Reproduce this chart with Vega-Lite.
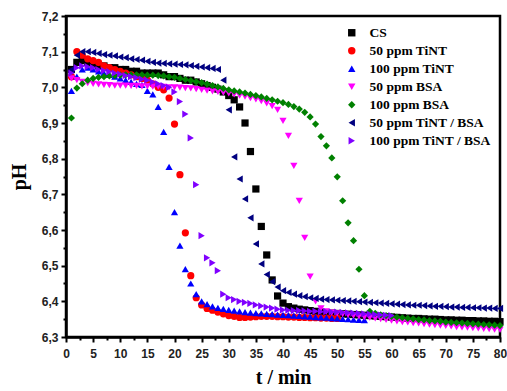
{
  "$schema": "https://vega.github.io/schema/vega-lite/v6.json",
  "width": 434,
  "height": 321,
  "autosize": {"type": "none"},
  "padding": {"left": 66, "top": 16, "right": 7, "bottom": 54},
  "background": "white",
  "config": {
    "view": {"stroke": "black", "strokeWidth": 2.5},
    "axis": {
      "domainColor": "black", "domainWidth": 2.5, "tickColor": "black", "tickWidth": 2,
      "grid": false, "labelFont": "Liberation Sans", "labelFontWeight": "bold", "labelFontSize": 12,
      "labelColor": "#222", "titleFont": "Liberation Serif", "titleFontWeight": "bold",
      "titleFontSize": 20, "titleColor": "black", "labelOverlap": false, "labelFlush": false
    }
  },
  "data": {"values": [
{"s":"CS","t":1,"pH":7.05},{"s":"CS","t":2,"pH":7.07},{"s":"CS","t":3,"pH":7.075},{"s":"CS","t":4,"pH":7.07},{"s":"CS","t":5,"pH":7.065},{"s":"CS","t":6,"pH":7.06},{"s":"CS","t":7,"pH":7.06},{"s":"CS","t":8,"pH":7.055},{"s":"CS","t":9,"pH":7.055},{"s":"CS","t":10,"pH":7.05},
{"s":"CS","t":11,"pH":7.05},{"s":"CS","t":12,"pH":7.045},{"s":"CS","t":13,"pH":7.045},{"s":"CS","t":14,"pH":7.04},{"s":"CS","t":15,"pH":7.04},{"s":"CS","t":16,"pH":7.04},{"s":"CS","t":17,"pH":7.04},{"s":"CS","t":18,"pH":7.035},{"s":"CS","t":19,"pH":7.03},{"s":"CS","t":20,"pH":7.03},
{"s":"CS","t":21,"pH":7.025},{"s":"CS","t":22,"pH":7.02},{"s":"CS","t":23,"pH":7.02},{"s":"CS","t":24,"pH":7.015},{"s":"CS","t":25,"pH":7.01},{"s":"CS","t":26,"pH":7.005},{"s":"CS","t":27,"pH":7.0},{"s":"CS","t":28,"pH":6.995},{"s":"CS","t":29,"pH":6.987},{"s":"CS","t":30,"pH":6.977},
{"s":"CS","t":31,"pH":6.965},{"s":"CS","t":32,"pH":6.945},{"s":"CS","t":33,"pH":6.9},{"s":"CS","t":34,"pH":6.82},{"s":"CS","t":35,"pH":6.715},{"s":"CS","t":36,"pH":6.61},{"s":"CS","t":37,"pH":6.53},{"s":"CS","t":38,"pH":6.46},{"s":"CS","t":39,"pH":6.415},{"s":"CS","t":40,"pH":6.395},
{"s":"CS","t":41,"pH":6.385},{"s":"CS","t":42,"pH":6.381},{"s":"CS","t":43,"pH":6.378},{"s":"CS","t":44,"pH":6.376},{"s":"CS","t":45,"pH":6.374},{"s":"CS","t":46,"pH":6.372},{"s":"CS","t":47,"pH":6.37},{"s":"CS","t":48,"pH":6.368},{"s":"CS","t":49,"pH":6.367},{"s":"CS","t":50,"pH":6.366},
{"s":"CS","t":51,"pH":6.365},{"s":"CS","t":52,"pH":6.364},{"s":"CS","t":53,"pH":6.363},{"s":"CS","t":54,"pH":6.362},{"s":"CS","t":55,"pH":6.361},{"s":"CS","t":56,"pH":6.36},{"s":"CS","t":57,"pH":6.359},{"s":"CS","t":58,"pH":6.358},{"s":"CS","t":59,"pH":6.357},{"s":"CS","t":60,"pH":6.356},
{"s":"CS","t":61,"pH":6.355},{"s":"CS","t":62,"pH":6.354},{"s":"CS","t":63,"pH":6.353},{"s":"CS","t":64,"pH":6.352},{"s":"CS","t":65,"pH":6.352},{"s":"CS","t":66,"pH":6.351},{"s":"CS","t":67,"pH":6.35},{"s":"CS","t":68,"pH":6.35},{"s":"CS","t":69,"pH":6.349},{"s":"CS","t":70,"pH":6.348},
{"s":"CS","t":71,"pH":6.348},{"s":"CS","t":72,"pH":6.347},{"s":"CS","t":73,"pH":6.347},{"s":"CS","t":74,"pH":6.346},{"s":"CS","t":75,"pH":6.346},{"s":"CS","t":76,"pH":6.345},{"s":"CS","t":77,"pH":6.345},{"s":"CS","t":78,"pH":6.344},{"s":"CS","t":79,"pH":6.344},{"s":"CS","t":80,"pH":6.343},

{"s":"50 ppm TiNT","t":1,"pH":7.03},{"s":"50 ppm TiNT","t":2,"pH":7.1},{"s":"50 ppm TiNT","t":3,"pH":7.09},{"s":"50 ppm TiNT","t":4,"pH":7.08},{"s":"50 ppm TiNT","t":5,"pH":7.075},{"s":"50 ppm TiNT","t":6,"pH":7.07},{"s":"50 ppm TiNT","t":7,"pH":7.06},{"s":"50 ppm TiNT","t":8,"pH":7.055},{"s":"50 ppm TiNT","t":9,"pH":7.05},{"s":"50 ppm TiNT","t":10,"pH":7.045},
{"s":"50 ppm TiNT","t":11,"pH":7.04},{"s":"50 ppm TiNT","t":12,"pH":7.035},{"s":"50 ppm TiNT","t":13,"pH":7.03},{"s":"50 ppm TiNT","t":14,"pH":7.025},{"s":"50 ppm TiNT","t":15,"pH":7.02},{"s":"50 ppm TiNT","t":16,"pH":7.01},{"s":"50 ppm TiNT","t":17,"pH":7.0},{"s":"50 ppm TiNT","t":18,"pH":6.993},{"s":"50 ppm TiNT","t":19,"pH":6.97},{"s":"50 ppm TiNT","t":20,"pH":6.897},
{"s":"50 ppm TiNT","t":21,"pH":6.755},{"s":"50 ppm TiNT","t":22,"pH":6.592},{"s":"50 ppm TiNT","t":23,"pH":6.472},{"s":"50 ppm TiNT","t":24,"pH":6.41},{"s":"50 ppm TiNT","t":25,"pH":6.39},{"s":"50 ppm TiNT","t":26,"pH":6.38},{"s":"50 ppm TiNT","t":27,"pH":6.375},{"s":"50 ppm TiNT","t":28,"pH":6.37},{"s":"50 ppm TiNT","t":29,"pH":6.365},{"s":"50 ppm TiNT","t":30,"pH":6.36},
{"s":"50 ppm TiNT","t":31,"pH":6.358},{"s":"50 ppm TiNT","t":32,"pH":6.355},{"s":"50 ppm TiNT","t":33,"pH":6.355},{"s":"50 ppm TiNT","t":34,"pH":6.356},{"s":"50 ppm TiNT","t":35,"pH":6.357},{"s":"50 ppm TiNT","t":36,"pH":6.358},{"s":"50 ppm TiNT","t":37,"pH":6.358},{"s":"50 ppm TiNT","t":38,"pH":6.358},{"s":"50 ppm TiNT","t":39,"pH":6.357},{"s":"50 ppm TiNT","t":40,"pH":6.357},
{"s":"50 ppm TiNT","t":41,"pH":6.356},{"s":"50 ppm TiNT","t":42,"pH":6.356},{"s":"50 ppm TiNT","t":43,"pH":6.355},{"s":"50 ppm TiNT","t":44,"pH":6.355},{"s":"50 ppm TiNT","t":45,"pH":6.354},{"s":"50 ppm TiNT","t":46,"pH":6.354},{"s":"50 ppm TiNT","t":47,"pH":6.353},{"s":"50 ppm TiNT","t":48,"pH":6.353},{"s":"50 ppm TiNT","t":49,"pH":6.352},{"s":"50 ppm TiNT","t":50,"pH":6.352},

{"s":"100 ppm TiNT","t":1,"pH":6.99},{"s":"100 ppm TiNT","t":2,"pH":7.03},{"s":"100 ppm TiNT","t":3,"pH":7.05},{"s":"100 ppm TiNT","t":4,"pH":7.055},{"s":"100 ppm TiNT","t":5,"pH":7.05},{"s":"100 ppm TiNT","t":6,"pH":7.045},{"s":"100 ppm TiNT","t":7,"pH":7.04},{"s":"100 ppm TiNT","t":8,"pH":7.035},{"s":"100 ppm TiNT","t":9,"pH":7.03},{"s":"100 ppm TiNT","t":10,"pH":7.025},
{"s":"100 ppm TiNT","t":11,"pH":7.02},{"s":"100 ppm TiNT","t":12,"pH":7.015},{"s":"100 ppm TiNT","t":13,"pH":7.01},{"s":"100 ppm TiNT","t":14,"pH":7.007},{"s":"100 ppm TiNT","t":15,"pH":6.99},{"s":"100 ppm TiNT","t":16,"pH":6.98},{"s":"100 ppm TiNT","t":17,"pH":6.945},{"s":"100 ppm TiNT","t":18,"pH":6.875},{"s":"100 ppm TiNT","t":19,"pH":6.777},{"s":"100 ppm TiNT","t":20,"pH":6.65},
{"s":"100 ppm TiNT","t":21,"pH":6.556},{"s":"100 ppm TiNT","t":22,"pH":6.49},{"s":"100 ppm TiNT","t":23,"pH":6.45},{"s":"100 ppm TiNT","t":24,"pH":6.42},{"s":"100 ppm TiNT","t":25,"pH":6.4},{"s":"100 ppm TiNT","t":26,"pH":6.392},{"s":"100 ppm TiNT","t":27,"pH":6.386},{"s":"100 ppm TiNT","t":28,"pH":6.382},{"s":"100 ppm TiNT","t":29,"pH":6.379},{"s":"100 ppm TiNT","t":30,"pH":6.376},
{"s":"100 ppm TiNT","t":31,"pH":6.374},{"s":"100 ppm TiNT","t":32,"pH":6.372},{"s":"100 ppm TiNT","t":33,"pH":6.37},{"s":"100 ppm TiNT","t":34,"pH":6.368},{"s":"100 ppm TiNT","t":35,"pH":6.367},{"s":"100 ppm TiNT","t":36,"pH":6.366},{"s":"100 ppm TiNT","t":37,"pH":6.365},{"s":"100 ppm TiNT","t":38,"pH":6.364},{"s":"100 ppm TiNT","t":39,"pH":6.363},{"s":"100 ppm TiNT","t":40,"pH":6.362},
{"s":"100 ppm TiNT","t":41,"pH":6.361},{"s":"100 ppm TiNT","t":42,"pH":6.36},{"s":"100 ppm TiNT","t":43,"pH":6.359},{"s":"100 ppm TiNT","t":44,"pH":6.358},{"s":"100 ppm TiNT","t":45,"pH":6.357},{"s":"100 ppm TiNT","t":46,"pH":6.356},{"s":"100 ppm TiNT","t":47,"pH":6.355},{"s":"100 ppm TiNT","t":48,"pH":6.354},{"s":"100 ppm TiNT","t":49,"pH":6.353},{"s":"100 ppm TiNT","t":50,"pH":6.352},
{"s":"100 ppm TiNT","t":51,"pH":6.351},{"s":"100 ppm TiNT","t":52,"pH":6.35},{"s":"100 ppm TiNT","t":53,"pH":6.349},{"s":"100 ppm TiNT","t":54,"pH":6.348},{"s":"100 ppm TiNT","t":55,"pH":6.347},

{"s":"50 ppm BSA","t":1,"pH":7.025},{"s":"50 ppm BSA","t":2,"pH":7.02},{"s":"50 ppm BSA","t":3,"pH":7.015},{"s":"50 ppm BSA","t":4,"pH":7.012},{"s":"50 ppm BSA","t":5,"pH":7.01},{"s":"50 ppm BSA","t":6,"pH":7.008},{"s":"50 ppm BSA","t":7,"pH":7.007},{"s":"50 ppm BSA","t":8,"pH":7.006},{"s":"50 ppm BSA","t":9,"pH":7.005},{"s":"50 ppm BSA","t":10,"pH":7.005},
{"s":"50 ppm BSA","t":11,"pH":7.005},{"s":"50 ppm BSA","t":12,"pH":7.004},{"s":"50 ppm BSA","t":13,"pH":7.004},{"s":"50 ppm BSA","t":14,"pH":7.003},{"s":"50 ppm BSA","t":15,"pH":7.003},{"s":"50 ppm BSA","t":16,"pH":7.002},{"s":"50 ppm BSA","t":17,"pH":7.002},{"s":"50 ppm BSA","t":18,"pH":7.001},{"s":"50 ppm BSA","t":19,"pH":7.0},{"s":"50 ppm BSA","t":20,"pH":7.0},
{"s":"50 ppm BSA","t":21,"pH":6.999},{"s":"50 ppm BSA","t":22,"pH":6.998},{"s":"50 ppm BSA","t":23,"pH":6.997},{"s":"50 ppm BSA","t":24,"pH":6.995},{"s":"50 ppm BSA","t":25,"pH":6.993},{"s":"50 ppm BSA","t":26,"pH":6.991},{"s":"50 ppm BSA","t":27,"pH":6.989},{"s":"50 ppm BSA","t":28,"pH":6.987},{"s":"50 ppm BSA","t":29,"pH":6.985},{"s":"50 ppm BSA","t":30,"pH":6.983},
{"s":"50 ppm BSA","t":31,"pH":6.98},{"s":"50 ppm BSA","t":32,"pH":6.977},{"s":"50 ppm BSA","t":33,"pH":6.974},{"s":"50 ppm BSA","t":34,"pH":6.97},{"s":"50 ppm BSA","t":35,"pH":6.966},{"s":"50 ppm BSA","t":36,"pH":6.961},{"s":"50 ppm BSA","t":37,"pH":6.955},{"s":"50 ppm BSA","t":38,"pH":6.947},{"s":"50 ppm BSA","t":39,"pH":6.937},{"s":"50 ppm BSA","t":40,"pH":6.906},
{"s":"50 ppm BSA","t":41,"pH":6.864},{"s":"50 ppm BSA","t":42,"pH":6.78},{"s":"50 ppm BSA","t":43,"pH":6.682},{"s":"50 ppm BSA","t":44,"pH":6.578},{"s":"50 ppm BSA","t":45,"pH":6.469},{"s":"50 ppm BSA","t":46,"pH":6.4},{"s":"50 ppm BSA","t":47,"pH":6.38},{"s":"50 ppm BSA","t":48,"pH":6.372},{"s":"50 ppm BSA","t":49,"pH":6.368},{"s":"50 ppm BSA","t":50,"pH":6.366},
{"s":"50 ppm BSA","t":51,"pH":6.364},{"s":"50 ppm BSA","t":52,"pH":6.362},{"s":"50 ppm BSA","t":53,"pH":6.36},{"s":"50 ppm BSA","t":54,"pH":6.358},{"s":"50 ppm BSA","t":55,"pH":6.356},{"s":"50 ppm BSA","t":56,"pH":6.354},{"s":"50 ppm BSA","t":57,"pH":6.352},{"s":"50 ppm BSA","t":58,"pH":6.35},{"s":"50 ppm BSA","t":59,"pH":6.348},{"s":"50 ppm BSA","t":60,"pH":6.346},
{"s":"50 ppm BSA","t":61,"pH":6.344},{"s":"50 ppm BSA","t":62,"pH":6.342},{"s":"50 ppm BSA","t":63,"pH":6.341},{"s":"50 ppm BSA","t":64,"pH":6.339},{"s":"50 ppm BSA","t":65,"pH":6.338},{"s":"50 ppm BSA","t":66,"pH":6.336},{"s":"50 ppm BSA","t":67,"pH":6.335},{"s":"50 ppm BSA","t":68,"pH":6.333},{"s":"50 ppm BSA","t":69,"pH":6.332},{"s":"50 ppm BSA","t":70,"pH":6.331},
{"s":"50 ppm BSA","t":71,"pH":6.33},{"s":"50 ppm BSA","t":72,"pH":6.328},{"s":"50 ppm BSA","t":73,"pH":6.327},{"s":"50 ppm BSA","t":74,"pH":6.326},{"s":"50 ppm BSA","t":75,"pH":6.325},{"s":"50 ppm BSA","t":76,"pH":6.324},{"s":"50 ppm BSA","t":77,"pH":6.323},{"s":"50 ppm BSA","t":78,"pH":6.322},{"s":"50 ppm BSA","t":79,"pH":6.321},{"s":"50 ppm BSA","t":80,"pH":6.32},

{"s":"100 ppm BSA","t":1,"pH":6.914},{"s":"100 ppm BSA","t":2,"pH":6.998},{"s":"100 ppm BSA","t":3,"pH":7.01},{"s":"100 ppm BSA","t":4,"pH":7.02},{"s":"100 ppm BSA","t":5,"pH":7.025},{"s":"100 ppm BSA","t":6,"pH":7.028},{"s":"100 ppm BSA","t":7,"pH":7.03},{"s":"100 ppm BSA","t":8,"pH":7.032},{"s":"100 ppm BSA","t":9,"pH":7.033},{"s":"100 ppm BSA","t":10,"pH":7.034},
{"s":"100 ppm BSA","t":11,"pH":7.035},{"s":"100 ppm BSA","t":12,"pH":7.035},{"s":"100 ppm BSA","t":13,"pH":7.035},{"s":"100 ppm BSA","t":14,"pH":7.035},{"s":"100 ppm BSA","t":15,"pH":7.034},{"s":"100 ppm BSA","t":16,"pH":7.034},{"s":"100 ppm BSA","t":17,"pH":7.033},{"s":"100 ppm BSA","t":18,"pH":7.032},{"s":"100 ppm BSA","t":19,"pH":7.03},{"s":"100 ppm BSA","t":20,"pH":7.028},
{"s":"100 ppm BSA","t":21,"pH":7.025},{"s":"100 ppm BSA","t":22,"pH":7.022},{"s":"100 ppm BSA","t":23,"pH":7.019},{"s":"100 ppm BSA","t":24,"pH":7.016},{"s":"100 ppm BSA","t":25,"pH":7.013},{"s":"100 ppm BSA","t":26,"pH":7.009},{"s":"100 ppm BSA","t":27,"pH":7.005},{"s":"100 ppm BSA","t":28,"pH":7.001},{"s":"100 ppm BSA","t":29,"pH":6.997},{"s":"100 ppm BSA","t":30,"pH":6.993},
{"s":"100 ppm BSA","t":31,"pH":6.99},{"s":"100 ppm BSA","t":32,"pH":6.987},{"s":"100 ppm BSA","t":33,"pH":6.984},{"s":"100 ppm BSA","t":34,"pH":6.98},{"s":"100 ppm BSA","t":35,"pH":6.977},{"s":"100 ppm BSA","t":36,"pH":6.973},{"s":"100 ppm BSA","t":37,"pH":6.969},{"s":"100 ppm BSA","t":38,"pH":6.965},{"s":"100 ppm BSA","t":39,"pH":6.961},{"s":"100 ppm BSA","t":40,"pH":6.957},
{"s":"100 ppm BSA","t":41,"pH":6.952},{"s":"100 ppm BSA","t":42,"pH":6.946},{"s":"100 ppm BSA","t":43,"pH":6.939},{"s":"100 ppm BSA","t":44,"pH":6.93},{"s":"100 ppm BSA","t":45,"pH":6.917},{"s":"100 ppm BSA","t":46,"pH":6.897},{"s":"100 ppm BSA","t":47,"pH":6.862},{"s":"100 ppm BSA","t":48,"pH":6.836},{"s":"100 ppm BSA","t":49,"pH":6.802},{"s":"100 ppm BSA","t":50,"pH":6.749},
{"s":"100 ppm BSA","t":51,"pH":6.682},{"s":"100 ppm BSA","t":52,"pH":6.62},{"s":"100 ppm BSA","t":53,"pH":6.57},{"s":"100 ppm BSA","t":54,"pH":6.49},{"s":"100 ppm BSA","t":55,"pH":6.416},{"s":"100 ppm BSA","t":56,"pH":6.372},{"s":"100 ppm BSA","t":57,"pH":6.366},{"s":"100 ppm BSA","t":58,"pH":6.362},{"s":"100 ppm BSA","t":59,"pH":6.36},{"s":"100 ppm BSA","t":60,"pH":6.358},
{"s":"100 ppm BSA","t":61,"pH":6.356},{"s":"100 ppm BSA","t":62,"pH":6.354},{"s":"100 ppm BSA","t":63,"pH":6.352},{"s":"100 ppm BSA","t":64,"pH":6.351},{"s":"100 ppm BSA","t":65,"pH":6.349},{"s":"100 ppm BSA","t":66,"pH":6.348},{"s":"100 ppm BSA","t":67,"pH":6.346},{"s":"100 ppm BSA","t":68,"pH":6.345},{"s":"100 ppm BSA","t":69,"pH":6.344},{"s":"100 ppm BSA","t":70,"pH":6.342},
{"s":"100 ppm BSA","t":71,"pH":6.341},{"s":"100 ppm BSA","t":72,"pH":6.34},{"s":"100 ppm BSA","t":73,"pH":6.339},{"s":"100 ppm BSA","t":74,"pH":6.338},{"s":"100 ppm BSA","t":75,"pH":6.337},{"s":"100 ppm BSA","t":76,"pH":6.336},{"s":"100 ppm BSA","t":77,"pH":6.335},{"s":"100 ppm BSA","t":78,"pH":6.334},{"s":"100 ppm BSA","t":79,"pH":6.333},{"s":"100 ppm BSA","t":80,"pH":6.332},

{"s":"50 ppm TiNT / BSA","t":1,"pH":7.05},{"s":"50 ppm TiNT / BSA","t":2,"pH":7.09},{"s":"50 ppm TiNT / BSA","t":3,"pH":7.1},{"s":"50 ppm TiNT / BSA","t":4,"pH":7.1},{"s":"50 ppm TiNT / BSA","t":5,"pH":7.098},{"s":"50 ppm TiNT / BSA","t":6,"pH":7.095},{"s":"50 ppm TiNT / BSA","t":7,"pH":7.092},{"s":"50 ppm TiNT / BSA","t":8,"pH":7.09},{"s":"50 ppm TiNT / BSA","t":9,"pH":7.088},{"s":"50 ppm TiNT / BSA","t":10,"pH":7.085},
{"s":"50 ppm TiNT / BSA","t":11,"pH":7.083},{"s":"50 ppm TiNT / BSA","t":12,"pH":7.08},{"s":"50 ppm TiNT / BSA","t":13,"pH":7.078},{"s":"50 ppm TiNT / BSA","t":14,"pH":7.076},{"s":"50 ppm TiNT / BSA","t":15,"pH":7.073},{"s":"50 ppm TiNT / BSA","t":16,"pH":7.07},{"s":"50 ppm TiNT / BSA","t":17,"pH":7.068},{"s":"50 ppm TiNT / BSA","t":18,"pH":7.067},{"s":"50 ppm TiNT / BSA","t":19,"pH":7.066},{"s":"50 ppm TiNT / BSA","t":20,"pH":7.065},
{"s":"50 ppm TiNT / BSA","t":21,"pH":7.064},{"s":"50 ppm TiNT / BSA","t":22,"pH":7.063},{"s":"50 ppm TiNT / BSA","t":23,"pH":7.061},{"s":"50 ppm TiNT / BSA","t":24,"pH":7.059},{"s":"50 ppm TiNT / BSA","t":25,"pH":7.057},{"s":"50 ppm TiNT / BSA","t":26,"pH":7.055},{"s":"50 ppm TiNT / BSA","t":27,"pH":7.053},{"s":"50 ppm TiNT / BSA","t":28,"pH":7.05},{"s":"50 ppm TiNT / BSA","t":29,"pH":7.02},{"s":"50 ppm TiNT / BSA","t":30,"pH":6.937},
{"s":"50 ppm TiNT / BSA","t":31,"pH":6.805},{"s":"50 ppm TiNT / BSA","t":32,"pH":6.743},{"s":"50 ppm TiNT / BSA","t":33,"pH":6.687},{"s":"50 ppm TiNT / BSA","t":34,"pH":6.634},{"s":"50 ppm TiNT / BSA","t":35,"pH":6.561},{"s":"50 ppm TiNT / BSA","t":36,"pH":6.505},{"s":"50 ppm TiNT / BSA","t":37,"pH":6.475},{"s":"50 ppm TiNT / BSA","t":38,"pH":6.455},{"s":"50 ppm TiNT / BSA","t":39,"pH":6.44},{"s":"50 ppm TiNT / BSA","t":40,"pH":6.43},
{"s":"50 ppm TiNT / BSA","t":41,"pH":6.425},{"s":"50 ppm TiNT / BSA","t":42,"pH":6.42},{"s":"50 ppm TiNT / BSA","t":43,"pH":6.416},{"s":"50 ppm TiNT / BSA","t":44,"pH":6.413},{"s":"50 ppm TiNT / BSA","t":45,"pH":6.41},{"s":"50 ppm TiNT / BSA","t":46,"pH":6.408},{"s":"50 ppm TiNT / BSA","t":47,"pH":6.406},{"s":"50 ppm TiNT / BSA","t":48,"pH":6.405},{"s":"50 ppm TiNT / BSA","t":49,"pH":6.404},{"s":"50 ppm TiNT / BSA","t":50,"pH":6.403},
{"s":"50 ppm TiNT / BSA","t":51,"pH":6.402},{"s":"50 ppm TiNT / BSA","t":52,"pH":6.401},{"s":"50 ppm TiNT / BSA","t":53,"pH":6.4},{"s":"50 ppm TiNT / BSA","t":54,"pH":6.399},{"s":"50 ppm TiNT / BSA","t":55,"pH":6.398},{"s":"50 ppm TiNT / BSA","t":56,"pH":6.397},{"s":"50 ppm TiNT / BSA","t":57,"pH":6.396},{"s":"50 ppm TiNT / BSA","t":58,"pH":6.395},{"s":"50 ppm TiNT / BSA","t":59,"pH":6.394},{"s":"50 ppm TiNT / BSA","t":60,"pH":6.393},
{"s":"50 ppm TiNT / BSA","t":61,"pH":6.392},{"s":"50 ppm TiNT / BSA","t":62,"pH":6.391},{"s":"50 ppm TiNT / BSA","t":63,"pH":6.39},{"s":"50 ppm TiNT / BSA","t":64,"pH":6.389},{"s":"50 ppm TiNT / BSA","t":65,"pH":6.389},{"s":"50 ppm TiNT / BSA","t":66,"pH":6.388},{"s":"50 ppm TiNT / BSA","t":67,"pH":6.387},{"s":"50 ppm TiNT / BSA","t":68,"pH":6.386},{"s":"50 ppm TiNT / BSA","t":69,"pH":6.386},{"s":"50 ppm TiNT / BSA","t":70,"pH":6.385},
{"s":"50 ppm TiNT / BSA","t":71,"pH":6.384},{"s":"50 ppm TiNT / BSA","t":72,"pH":6.384},{"s":"50 ppm TiNT / BSA","t":73,"pH":6.383},{"s":"50 ppm TiNT / BSA","t":74,"pH":6.383},{"s":"50 ppm TiNT / BSA","t":75,"pH":6.382},{"s":"50 ppm TiNT / BSA","t":76,"pH":6.382},{"s":"50 ppm TiNT / BSA","t":77,"pH":6.381},{"s":"50 ppm TiNT / BSA","t":78,"pH":6.381},{"s":"50 ppm TiNT / BSA","t":79,"pH":6.38},{"s":"50 ppm TiNT / BSA","t":80,"pH":6.38},

{"s":"100 ppm TiNT / BSA","t":1,"pH":7.04},{"s":"100 ppm TiNT / BSA","t":2,"pH":7.055},{"s":"100 ppm TiNT / BSA","t":3,"pH":7.06},{"s":"100 ppm TiNT / BSA","t":4,"pH":7.058},{"s":"100 ppm TiNT / BSA","t":5,"pH":7.055},{"s":"100 ppm TiNT / BSA","t":6,"pH":7.05},{"s":"100 ppm TiNT / BSA","t":7,"pH":7.047},{"s":"100 ppm TiNT / BSA","t":8,"pH":7.044},{"s":"100 ppm TiNT / BSA","t":9,"pH":7.04},{"s":"100 ppm TiNT / BSA","t":10,"pH":7.037},
{"s":"100 ppm TiNT / BSA","t":11,"pH":7.033},{"s":"100 ppm TiNT / BSA","t":12,"pH":7.03},{"s":"100 ppm TiNT / BSA","t":13,"pH":7.027},{"s":"100 ppm TiNT / BSA","t":14,"pH":7.023},{"s":"100 ppm TiNT / BSA","t":15,"pH":7.02},{"s":"100 ppm TiNT / BSA","t":16,"pH":7.015},{"s":"100 ppm TiNT / BSA","t":17,"pH":7.01},{"s":"100 ppm TiNT / BSA","t":18,"pH":7.005},{"s":"100 ppm TiNT / BSA","t":19,"pH":7.0},{"s":"100 ppm TiNT / BSA","t":20,"pH":6.987},
{"s":"100 ppm TiNT / BSA","t":21,"pH":6.96},{"s":"100 ppm TiNT / BSA","t":22,"pH":6.925},{"s":"100 ppm TiNT / BSA","t":23,"pH":6.858},{"s":"100 ppm TiNT / BSA","t":24,"pH":6.727},{"s":"100 ppm TiNT / BSA","t":25,"pH":6.584},{"s":"100 ppm TiNT / BSA","t":26,"pH":6.522},{"s":"100 ppm TiNT / BSA","t":27,"pH":6.508},{"s":"100 ppm TiNT / BSA","t":28,"pH":6.486},{"s":"100 ppm TiNT / BSA","t":29,"pH":6.42},{"s":"100 ppm TiNT / BSA","t":30,"pH":6.41},
{"s":"100 ppm TiNT / BSA","t":31,"pH":6.405},{"s":"100 ppm TiNT / BSA","t":32,"pH":6.4},{"s":"100 ppm TiNT / BSA","t":33,"pH":6.397},{"s":"100 ppm TiNT / BSA","t":34,"pH":6.394},{"s":"100 ppm TiNT / BSA","t":35,"pH":6.39},{"s":"100 ppm TiNT / BSA","t":36,"pH":6.387},{"s":"100 ppm TiNT / BSA","t":37,"pH":6.384},{"s":"100 ppm TiNT / BSA","t":38,"pH":6.381},{"s":"100 ppm TiNT / BSA","t":39,"pH":6.378},{"s":"100 ppm TiNT / BSA","t":40,"pH":6.376},
{"s":"100 ppm TiNT / BSA","t":41,"pH":6.375},{"s":"100 ppm TiNT / BSA","t":42,"pH":6.374},{"s":"100 ppm TiNT / BSA","t":43,"pH":6.374},{"s":"100 ppm TiNT / BSA","t":44,"pH":6.373},{"s":"100 ppm TiNT / BSA","t":45,"pH":6.372},{"s":"100 ppm TiNT / BSA","t":46,"pH":6.372},{"s":"100 ppm TiNT / BSA","t":47,"pH":6.371},{"s":"100 ppm TiNT / BSA","t":48,"pH":6.371},{"s":"100 ppm TiNT / BSA","t":49,"pH":6.37},{"s":"100 ppm TiNT / BSA","t":50,"pH":6.37},
{"s":"100 ppm TiNT / BSA","t":51,"pH":6.369},{"s":"100 ppm TiNT / BSA","t":52,"pH":6.368},{"s":"100 ppm TiNT / BSA","t":53,"pH":6.367},{"s":"100 ppm TiNT / BSA","t":54,"pH":6.366},{"s":"100 ppm TiNT / BSA","t":55,"pH":6.365},{"s":"100 ppm TiNT / BSA","t":56,"pH":6.364},{"s":"100 ppm TiNT / BSA","t":57,"pH":6.363},{"s":"100 ppm TiNT / BSA","t":58,"pH":6.362},{"s":"100 ppm TiNT / BSA","t":59,"pH":6.361},{"s":"100 ppm TiNT / BSA","t":60,"pH":6.36}
  ]},
  "mark": {"type": "point", "filled": true, "size": 52, "opacity": 1},
  "encoding": {
    "x": {
      "field": "t", "type": "quantitative", "title": "t / min",
      "scale": {"domain": [0, 80], "nice": false, "zero": false},
      "axis": {
        "values": [0,2.5,5,7.5,10,12.5,15,17.5,20,22.5,25,27.5,30,32.5,35,37.5,40,42.5,45,47.5,50,52.5,55,57.5,60,62.5,65,67.5,70,72.5,75,77.5,80],
        "tickSize": {"condition": {"test": "datum.value % 5 === 0", "value": 5}, "value": 3},
        "labelExpr": "datum.value % 5 === 0 ? datum.label : ''",
        "labelPadding": 6, "titlePadding": 8
      }
    },
    "y": {
      "field": "pH", "type": "quantitative", "title": "pH",
      "scale": {"domain": [6.3, 7.2], "nice": false, "zero": false},
      "axis": {
        "values": [6.3,6.35,6.4,6.45,6.5,6.55,6.6,6.65,6.7,6.75,6.8,6.85,6.9,6.95,7.0,7.05,7.1,7.15,7.2],
        "tickSize": {"condition": {"test": "abs(datum.value*10 - round(datum.value*10)) < 0.01", "value": 5}, "value": 3},
        "labelExpr": "abs(datum.value*10 - round(datum.value*10)) < 0.01 ? replace(format(datum.value, '.1f'), '.', ',') : ''",
        "labelPadding": 3, "titlePadding": 12
      }
    },
    "color": {
      "field": "s", "type": "nominal",
      "scale": {
        "domain": ["CS","50 ppm TiNT","100 ppm TiNT","50 ppm BSA","100 ppm BSA","50 ppm TiNT / BSA","100 ppm TiNT / BSA"],
        "range": ["#000000","#FF0000","#0000FF","#FF00FF","#008000","#000080","#8000FF"]
      },
      "legend": {
        "title": null, "orient": "none", "legendX": 279, "legendY": 10,
        "labelFont": "Liberation Serif", "labelFontWeight": "bold", "labelFontSize": 13.5,
        "labelColor": "black", "symbolSize": 55, "rowPadding": 3, "labelOffset": 11,
        "symbolStrokeWidth": 0, "padding": 0
      }
    },
    "shape": {
      "field": "s", "type": "nominal",
      "scale": {
        "domain": ["CS","50 ppm TiNT","100 ppm TiNT","50 ppm BSA","100 ppm BSA","50 ppm TiNT / BSA","100 ppm TiNT / BSA"],
        "range": ["square","circle","triangle-up","triangle-down","diamond","triangle-left","triangle-right"]
      }
    }
  }
}
